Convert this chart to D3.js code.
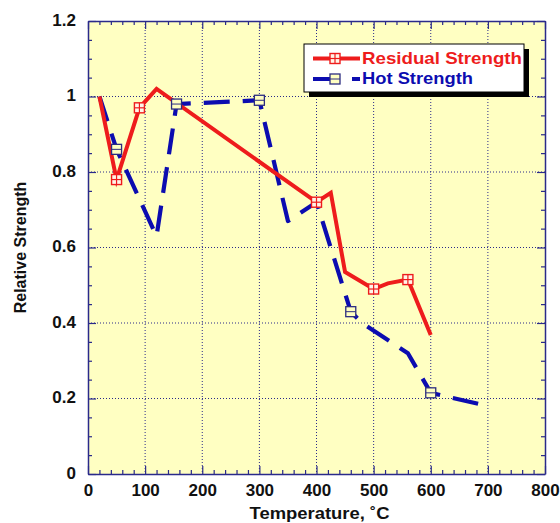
<!DOCTYPE html>
<html>
<head>
<meta charset="utf-8">
<script src="https://cdn.jsdelivr.net/npm/d3@7"></script>
<style>
  html, body { margin: 0; padding: 0; background: #ffffff; }
  svg { display: block; }
  text { font-family: "Liberation Sans", Arial, Helvetica, sans-serif; font-weight: bold; }
</style>
</head>
<body>
<svg id="chart" width="560" height="523"></svg>
<script>
// ---- Data ----
const residualTemp     = [20, 50, 90, 120, 400, 425, 450, 500, 525, 560, 600];
const residualStrength = [1.0, 0.78, 0.97, 1.02, 0.72, 0.745, 0.535, 0.49, 0.505, 0.515, 0.368];
const residualMarked   = [false, true, true, false, true, false, false, true, false, true, false];

const hotTemp     = [20, 50, 120, 155, 300, 350, 400, 460, 480, 560, 600, 700];
const hotStrength = [1.0, 0.86, 0.63, 0.98, 0.99, 0.67, 0.72, 0.43, 0.40, 0.32, 0.215, 0.18];
const hotMarked   = [false, true, false, true, true, false, false, true, false, false, true, false];

const seriesNames = ["Residual Strength", "Hot Strength"];
const xTicks = [0, 100, 200, 300, 400, 500, 600, 700, 800];
const xTickLabels = ["0", "100", "200", "300", "400", "500", "600", "700", "800"];
const yTicks = [0, 0.2, 0.4, 0.6, 0.8, 1.0, 1.2];
const yTickLabels = ["0", "0.2", "0.4", "0.6", "0.8", "1", "1.2"];
const xTitle = "Temperature, ˚C";
const yTitle = "Relative Strength";

// ---- Layout ----
const svg = d3.select("#chart");
const L = 88, R = 545, T = 21, B = 474;
const axisColor = "#2a2a8a";
const redColor = "#ee1c1c";
const blueColor = "#0c0cb0";
const bg = "#ffffc2";

const x = d3.scaleLinear().domain([0, 800]).range([L, R]);
const y = d3.scaleLinear().domain([0, 1.2]).range([B, T]);

// plot background
svg.append("rect").attr("x", L).attr("y", T).attr("width", R - L).attr("height", B - T)
  .attr("fill", bg);

// grid
const grid = svg.append("g");
grid.selectAll(".gx").data(xTicks.slice(1, -1)).join("line")
  .attr("x1", d => x(d)).attr("x2", d => x(d)).attr("y1", T).attr("y2", B)
  .attr("stroke", axisColor).attr("stroke-width", 1).attr("stroke-dasharray", "1,2");
grid.selectAll(".gy").data(yTicks.slice(1, -1)).join("line")
  .attr("y1", d => y(d)).attr("y2", d => y(d)).attr("x1", L).attr("x2", R)
  .attr("stroke", axisColor).attr("stroke-width", 1).attr("stroke-dasharray", "1,2");

// minor tick values
const xMinor = d3.range(0, 801, 20).filter(v => v % 100 !== 0);
const yMinor = d3.range(0, 25).map(i => +(i * 0.05).toFixed(2)).filter(v => Math.round(v * 100) % 20 !== 0);

function styleAxis(g) {
  g.selectAll("path").attr("stroke", axisColor).attr("stroke-width", 1.5);
  g.selectAll("line").attr("stroke", axisColor).attr("stroke-width", 1.2);
  g.selectAll("text").attr("fill", "#111").style("font-size", "17px").style("font-weight", "bold")
    .style("font-family", '"Liberation Sans", Arial, Helvetica, sans-serif');
}

// bottom
svg.append("g").attr("transform", `translate(0,${B})`)
  .call(d3.axisBottom(x).tickValues(xTicks).tickFormat((d, i) => xTickLabels[i])
    .tickSizeInner(-8).tickSizeOuter(0).tickPadding(10))
  .call(styleAxis);
svg.append("g").attr("transform", `translate(0,${B})`)
  .call(d3.axisBottom(x).tickValues(xMinor).tickFormat("").tickSizeInner(-4).tickSizeOuter(0))
  .call(g => g.select("path").remove()).call(styleAxis);
// top
svg.append("g").attr("transform", `translate(0,${T})`)
  .call(d3.axisTop(x).tickValues(xTicks).tickFormat("").tickSizeInner(-8).tickSizeOuter(0))
  .call(styleAxis);
svg.append("g").attr("transform", `translate(0,${T})`)
  .call(d3.axisTop(x).tickValues(xMinor).tickFormat("").tickSizeInner(-4).tickSizeOuter(0))
  .call(g => g.select("path").remove()).call(styleAxis);
// left
svg.append("g").attr("transform", `translate(${L},0)`)
  .call(d3.axisLeft(y).tickValues(yTicks).tickFormat((d, i) => yTickLabels[i])
    .tickSizeInner(-8).tickSizeOuter(0).tickPadding(12))
  .call(styleAxis)
  .call(g => g.selectAll("text").attr("dy", "0.26em"));
svg.append("g").attr("transform", `translate(${L},0)`)
  .call(d3.axisLeft(y).tickValues(yMinor).tickFormat("").tickSizeInner(-4).tickSizeOuter(0))
  .call(g => g.select("path").remove()).call(styleAxis);
// right
svg.append("g").attr("transform", `translate(${R},0)`)
  .call(d3.axisRight(y).tickValues(yTicks).tickFormat("").tickSizeInner(-8).tickSizeOuter(0))
  .call(styleAxis);
svg.append("g").attr("transform", `translate(${R},0)`)
  .call(d3.axisRight(y).tickValues(yMinor).tickFormat("").tickSizeInner(-4).tickSizeOuter(0))
  .call(g => g.select("path").remove()).call(styleAxis);

// axis titles
svg.append("text").attr("x", (L + R) / 2 + 3).attr("y", 519).attr("text-anchor", "middle")
  .attr("fill", "#111").style("font-size", "17px")
  .attr("textLength", 140).attr("lengthAdjust", "spacingAndGlyphs")
  .text(xTitle);
svg.append("text").attr("transform", `translate(26,${(T + B) / 2}) rotate(-90)`)
  .attr("text-anchor", "middle").attr("fill", "#111").style("font-size", "16px")
  .text(yTitle);

// series data
const resData = residualTemp.map((t, i) => ({ t, v: residualStrength[i], m: residualMarked[i] }));
const hotData = hotTemp.map((t, i) => ({ t, v: hotStrength[i], m: hotMarked[i] }));
const line = d3.line().x(d => x(d.t)).y(d => y(d.v));

// hot strength (dashed blue)
svg.append("path").datum(hotData).attr("d", line)
  .attr("fill", "none").attr("stroke", blueColor).attr("stroke-width", 4.2)
  .attr("stroke-dasharray", "26,13").attr("stroke-linejoin", "round");

// residual strength (solid red)
svg.append("path").datum(resData).attr("d", line)
  .attr("fill", "none").attr("stroke", redColor).attr("stroke-width", 4)
  .attr("stroke-linejoin", "miter");

const ms = 10;
function blueMarker(g, cx, cy) {
  g.append("rect").attr("x", cx - ms / 2).attr("y", cy - ms / 2).attr("width", ms).attr("height", ms)
    .attr("fill", bg).attr("stroke", "#2c2c80").attr("stroke-width", 1.3);
  g.append("line").attr("x1", cx - ms / 2).attr("x2", cx + ms / 2).attr("y1", cy).attr("y2", cy)
    .attr("stroke", "#2c2c80").attr("stroke-width", 1);
}
function redMarker(g, cx, cy) {
  g.append("rect").attr("x", cx - ms / 2).attr("y", cy - ms / 2).attr("width", ms).attr("height", ms)
    .attr("fill", "#fff4e8").attr("stroke", redColor).attr("stroke-width", 1.4);
  g.append("line").attr("x1", cx - ms / 2).attr("x2", cx + ms / 2).attr("y1", cy).attr("y2", cy)
    .attr("stroke", redColor).attr("stroke-width", 1.2);
  g.append("line").attr("x1", cx).attr("x2", cx).attr("y1", cy - ms / 2).attr("y2", cy + ms / 2)
    .attr("stroke", redColor).attr("stroke-width", 1.2);
}
const markers = svg.append("g");
hotData.filter(d => d.m).forEach(d => blueMarker(markers, x(d.t), y(d.v)));
resData.filter(d => d.m).forEach(d => redMarker(markers, x(d.t), y(d.v)));

// legend
const lg = svg.append("g");
lg.append("rect").attr("x", 309).attr("y", 49).attr("width", 220).attr("height", 48).attr("fill", "#000");
lg.append("rect").attr("x", 304).attr("y", 44).attr("width", 220).attr("height", 48)
  .attr("fill", "#fff").attr("stroke", "#000").attr("stroke-width", 1);
lg.append("line").attr("x1", 313).attr("x2", 360).attr("y1", 58.5).attr("y2", 58.5)
  .attr("stroke", redColor).attr("stroke-width", 4);
redMarker(lg, 335, 58.5);
lg.append("text").attr("x", 362).attr("y", 64).attr("fill", redColor).style("font-size", "17px")
  .attr("textLength", 160).attr("lengthAdjust", "spacingAndGlyphs").text(seriesNames[0]);
lg.append("line").attr("x1", 313).attr("x2", 360).attr("y1", 79).attr("y2", 79)
  .attr("stroke", blueColor).attr("stroke-width", 4.2).attr("stroke-dasharray", "26,13");
blueMarker(lg, 335, 79);
lg.append("text").attr("x", 362).attr("y", 84).attr("fill", blueColor).style("font-size", "17px")
  .attr("textLength", 111).attr("lengthAdjust", "spacingAndGlyphs").text(seriesNames[1]);
</script>
</body>
</html>
